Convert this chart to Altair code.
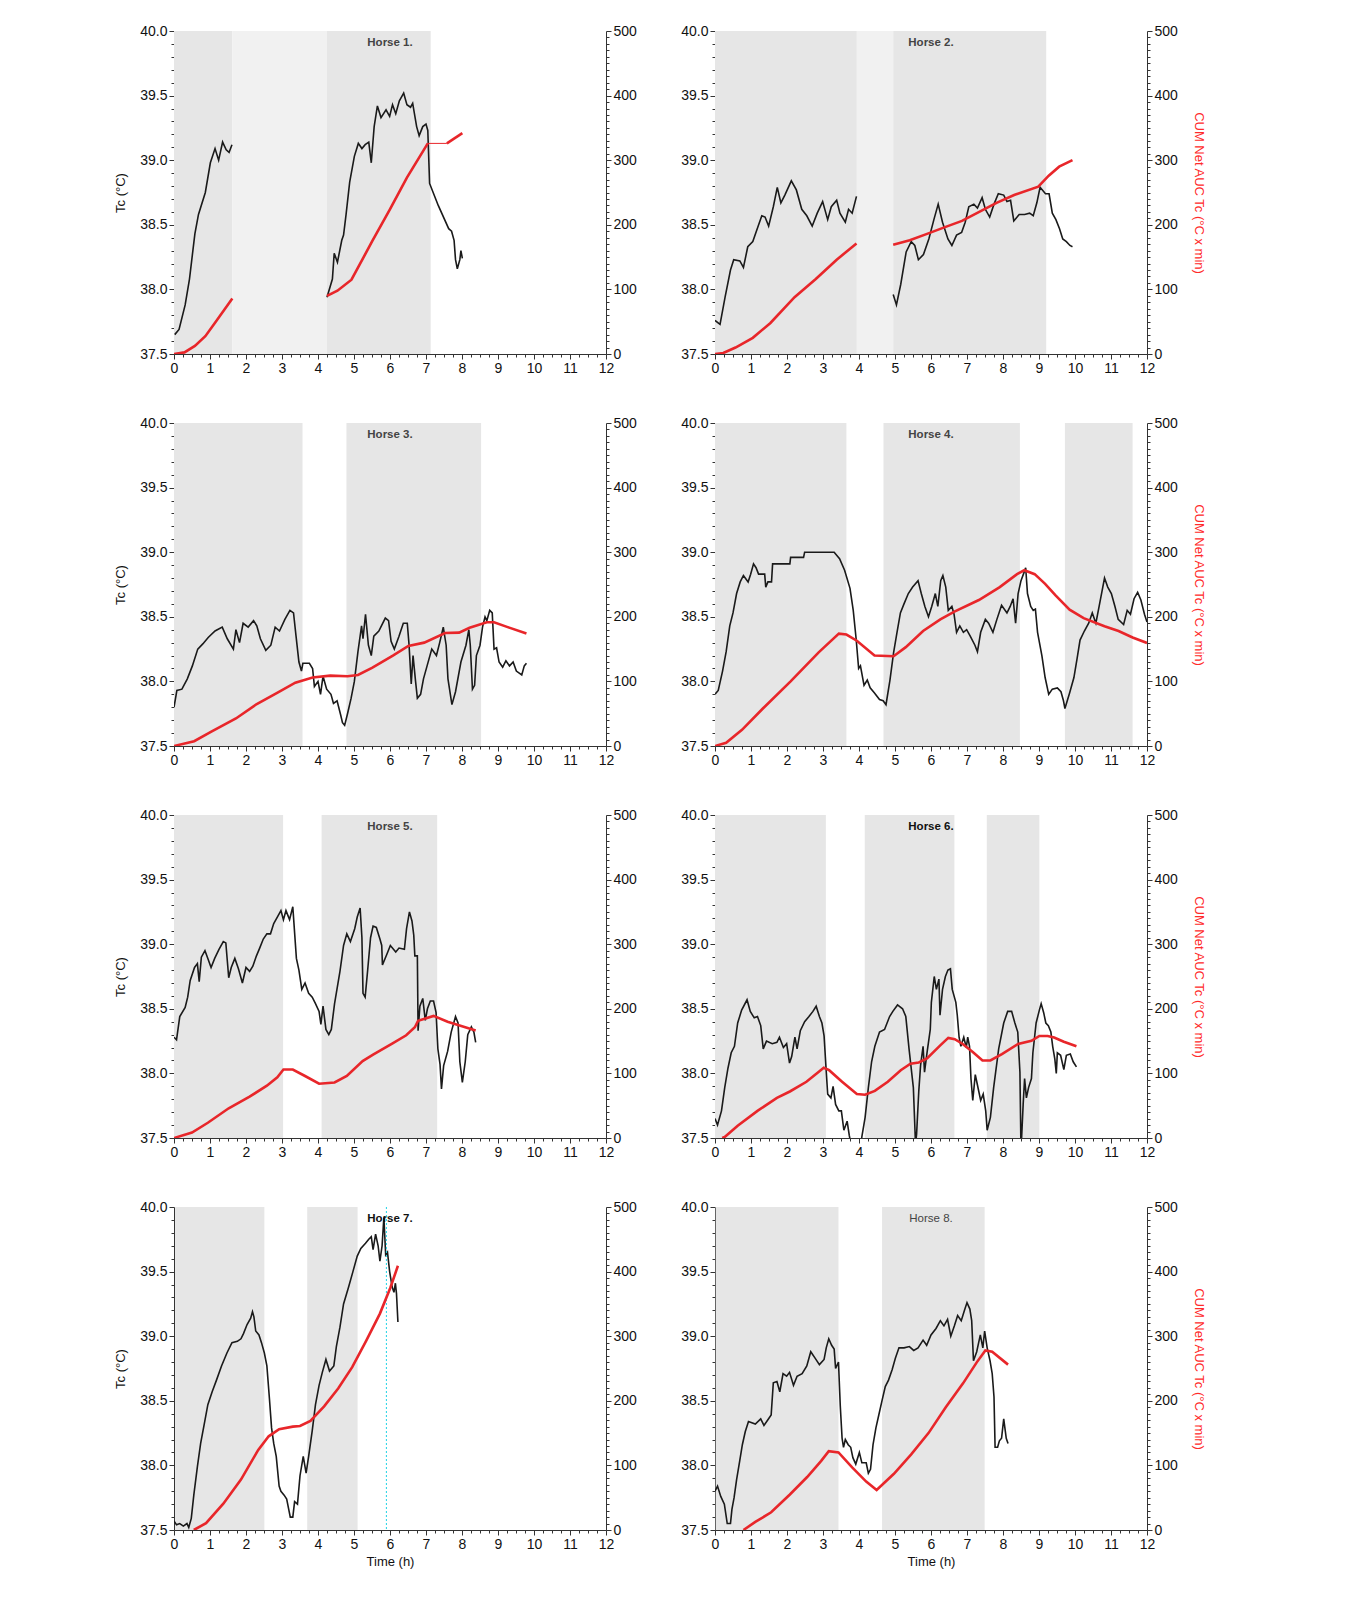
import altair as alt
import pandas as pd

# ---------------- data ----------------
NAMES = ["Horse 1.", "Horse 2.", "Horse 3.", "Horse 4.",
         "Horse 5.", "Horse 6.", "Horse 7.", "Horse 8."]

# shaded periods: (start h, end h, kind)
SHADE = [
    [(0, 1.62, "grey"), (1.62, 4.25, "dot"), (4.25, 7.13, "grey")],
    [(0, 3.94, "grey"), (3.94, 4.95, "dot"), (4.95, 9.2, "grey")],
    [(0, 3.57, "grey"), (4.79, 8.53, "grey")],
    [(0, 3.65, "grey"), (4.68, 8.47, "grey"), (9.72, 11.6, "grey")],
    [(0, 3.03, "grey"), (4.10, 7.31, "grey")],
    [(0, 3.08, "grey"), (4.16, 6.65, "grey"), (7.55, 9.01, "grey")],
    [(0.03, 2.51, "grey"), (3.70, 5.10, "grey")],
    [(0.02, 3.43, "grey"), (4.64, 7.49, "grey")],
]

# core temperature Tc (h, degC), list of segments
H1_TC = [
    [(0.02, 37.65), (0.14, 37.69), (0.31, 37.88), (0.43, 38.08), (0.58, 38.43), (0.68, 38.58),
     (0.87, 38.75), (1.01, 38.98), (1.14, 39.09), (1.24, 39.0), (1.35, 39.14), (1.45, 39.08),
     (1.53, 39.06), (1.61, 39.12)],
    [(4.25, 37.94), (4.40, 38.08), (4.45, 38.28), (4.54, 38.21), (4.66, 38.38), (4.71, 38.42),
     (4.78, 38.58), (4.88, 38.83), (5.01, 39.03), (5.12, 39.13), (5.22, 39.09), (5.31, 39.12),
     (5.41, 39.14), (5.48, 38.98), (5.56, 39.26), (5.65, 39.42), (5.75, 39.33), (5.89, 39.39),
     (5.99, 39.34), (6.07, 39.43), (6.16, 39.36), (6.26, 39.46), (6.38, 39.52), (6.47, 39.43),
     (6.57, 39.41), (6.63, 39.44), (6.74, 39.26), (6.81, 39.19), (6.91, 39.26), (7.00, 39.28),
     (7.05, 39.23), (7.10, 38.82), (7.34, 38.65), (7.63, 38.47), (7.71, 38.45), (7.78, 38.38),
     (7.82, 38.23), (7.87, 38.16), (7.94, 38.23), (7.97, 38.30), (8.01, 38.24)],
]
H2_TC = [
    [(0, 37.76), (0.14, 37.73), (0.28, 37.94), (0.43, 38.15), (0.52, 38.23), (0.69, 38.22),
     (0.79, 38.17), (0.91, 38.33), (1.05, 38.37), (1.20, 38.49), (1.30, 38.57), (1.39, 38.56),
     (1.49, 38.49), (1.62, 38.64), (1.73, 38.79), (1.83, 38.67), (1.94, 38.73), (2.12, 38.84),
     (2.26, 38.77), (2.41, 38.62), (2.55, 38.57), (2.70, 38.49), (2.84, 38.59), (2.99, 38.68),
     (3.13, 38.54), (3.23, 38.64), (3.38, 38.69), (3.47, 38.59), (3.62, 38.52), (3.71, 38.62),
     (3.81, 38.59), (3.93, 38.72)],
    [(4.95, 37.96), (5.04, 37.88), (5.16, 38.04), (5.31, 38.29), (5.45, 38.37), (5.55, 38.34),
     (5.65, 38.23), (5.79, 38.27), (5.94, 38.39), (6.08, 38.54), (6.20, 38.66), (6.32, 38.52),
     (6.47, 38.39), (6.58, 38.34), (6.71, 38.42), (6.85, 38.44), (6.95, 38.52), (7.05, 38.64),
     (7.19, 38.66), (7.29, 38.63), (7.42, 38.71), (7.51, 38.62), (7.63, 38.56), (7.75, 38.66),
     (7.87, 38.74), (8.02, 38.73), (8.11, 38.68), (8.21, 38.69), (8.30, 38.53), (8.45, 38.58),
     (8.60, 38.58), (8.74, 38.59), (8.84, 38.57), (8.94, 38.67), (9.03, 38.79), (9.18, 38.74),
     (9.28, 38.74), (9.37, 38.59), (9.47, 38.54), (9.57, 38.47), (9.66, 38.39), (9.76, 38.37),
     (9.86, 38.34), (9.93, 38.33)],
]
H3_TC = [
    [(0, 37.80), (0.08, 37.93), (0.22, 37.94), (0.37, 38.02), (0.51, 38.12), (0.66, 38.25),
     (0.80, 38.29), (0.95, 38.34), (1.14, 38.39), (1.34, 38.42), (1.48, 38.33), (1.65, 38.25),
     (1.72, 38.40), (1.82, 38.30), (1.92, 38.45), (2.06, 38.42), (2.21, 38.47), (2.30, 38.43),
     (2.40, 38.33), (2.55, 38.24), (2.69, 38.28), (2.81, 38.42), (2.93, 38.39), (3.08, 38.48),
     (3.22, 38.55), (3.32, 38.53), (3.39, 38.35), (3.47, 38.15), (3.54, 38.08), (3.58, 38.14),
     (3.76, 38.14), (3.85, 38.10), (3.90, 37.96), (4.00, 38.00), (4.07, 37.90), (4.14, 38.04),
     (4.24, 37.94), (4.36, 37.90), (4.43, 37.83), (4.53, 37.85), (4.63, 37.74), (4.68, 37.68),
     (4.74, 37.66), (4.82, 37.75), (4.92, 37.87), (5.01, 38.00), (5.11, 38.23), (5.21, 38.43),
     (5.25, 38.33), (5.32, 38.52), (5.40, 38.28), (5.48, 38.20), (5.55, 38.35), (5.69, 38.39),
     (5.87, 38.49), (5.96, 38.47), (6.03, 38.31), (6.12, 38.25), (6.25, 38.35), (6.37, 38.45),
     (6.48, 38.45), (6.53, 38.28), (6.59, 37.98), (6.64, 38.20), (6.71, 38.00), (6.76, 37.87),
     (6.85, 37.90), (6.93, 38.02), (7.03, 38.12), (7.16, 38.25), (7.29, 38.20), (7.38, 38.30),
     (7.48, 38.42), (7.56, 38.28), (7.61, 38.02), (7.72, 37.82), (7.82, 37.92), (7.97, 38.15),
     (8.11, 38.28), (8.19, 38.40), (8.23, 38.28), (8.29, 37.94), (8.35, 37.97), (8.40, 38.20),
     (8.50, 38.28), (8.57, 38.42), (8.64, 38.50), (8.69, 38.47), (8.77, 38.55), (8.84, 38.53),
     (8.89, 38.25), (8.96, 38.26), (9.03, 38.15), (9.13, 38.11), (9.22, 38.16), (9.32, 38.12),
     (9.42, 38.15), (9.51, 38.08), (9.66, 38.05), (9.73, 38.12), (9.79, 38.14)],
]
H4_TC = [
    [(0, 37.90), (0.09, 37.93), (0.21, 38.08), (0.31, 38.23), (0.41, 38.43), (0.50, 38.53),
     (0.60, 38.68), (0.70, 38.77), (0.79, 38.82), (0.92, 38.77), (0.99, 38.83), (1.07, 38.91),
     (1.14, 38.88), (1.21, 38.83), (1.38, 38.83), (1.41, 38.73), (1.47, 38.77), (1.57, 38.77),
     (1.60, 38.91), (2.08, 38.91), (2.10, 38.96), (2.46, 38.96), (2.49, 39.0), (3.31, 39.0),
     (3.46, 38.95), (3.60, 38.86), (3.75, 38.72), (3.84, 38.55), (3.92, 38.33), (3.99, 38.10),
     (4.04, 38.12), (4.14, 37.97), (4.23, 38.01), (4.31, 37.95), (4.43, 37.91), (4.57, 37.86),
     (4.67, 37.85), (4.75, 37.82), (4.86, 38.01), (4.96, 38.22), (5.05, 38.37), (5.15, 38.53),
     (5.25, 38.60), (5.37, 38.68), (5.49, 38.73), (5.64, 38.78), (5.73, 38.68), (5.83, 38.58),
     (5.93, 38.50), (6.02, 38.58), (6.12, 38.68), (6.19, 38.58), (6.27, 38.78), (6.33, 38.82),
     (6.41, 38.73), (6.48, 38.55), (6.58, 38.58), (6.64, 38.52), (6.71, 38.38), (6.80, 38.43),
     (6.90, 38.38), (6.99, 38.40), (7.09, 38.35), (7.22, 38.28), (7.29, 38.23), (7.38, 38.38),
     (7.51, 38.48), (7.60, 38.45), (7.72, 38.38), (7.83, 38.48), (7.96, 38.59), (8.11, 38.53),
     (8.20, 38.58), (8.28, 38.64), (8.35, 38.45), (8.42, 38.68), (8.50, 38.78), (8.58, 38.84),
     (8.63, 38.88), (8.68, 38.68), (8.77, 38.58), (8.84, 38.55), (8.90, 38.56), (8.96, 38.38),
     (9.08, 38.20), (9.17, 38.03), (9.27, 37.90), (9.37, 37.94), (9.51, 37.95), (9.61, 37.92),
     (9.68, 37.85), (9.72, 37.79), (9.85, 37.91), (9.97, 38.03), (10.06, 38.18), (10.14, 38.32),
     (10.26, 38.39), (10.38, 38.45), (10.48, 38.53), (10.58, 38.45), (10.67, 38.58),
     (10.82, 38.80), (10.91, 38.73), (11.01, 38.68), (11.11, 38.58), (11.20, 38.48),
     (11.35, 38.44), (11.45, 38.55), (11.54, 38.52), (11.64, 38.64), (11.74, 38.69),
     (11.83, 38.63), (11.93, 38.52), (12.0, 38.46)],
]
H5_TC = [
    [(0, 38.28), (0.07, 38.26), (0.16, 38.44), (0.31, 38.51), (0.38, 38.59), (0.45, 38.72),
     (0.57, 38.82), (0.65, 38.85), (0.70, 38.71), (0.76, 38.90), (0.86, 38.95), (0.94, 38.89),
     (1.03, 38.82), (1.13, 38.89), (1.25, 38.96), (1.37, 39.02), (1.44, 39.01), (1.52, 38.74),
     (1.59, 38.82), (1.69, 38.89), (1.79, 38.81), (1.90, 38.70), (2.00, 38.82), (2.10, 38.79),
     (2.19, 38.83), (2.29, 38.91), (2.38, 38.97), (2.48, 39.04), (2.58, 39.08), (2.68, 39.08),
     (2.77, 39.16), (2.87, 39.21), (2.97, 39.26), (3.04, 39.19), (3.11, 39.26), (3.21, 39.19),
     (3.30, 39.29), (3.35, 39.09), (3.40, 38.89), (3.47, 38.80), (3.55, 38.65), (3.64, 38.70),
     (3.74, 38.62), (3.84, 38.59), (3.93, 38.54), (4.03, 38.48), (4.08, 38.38), (4.14, 38.52),
     (4.22, 38.34), (4.30, 38.30), (4.37, 38.34), (4.46, 38.54), (4.61, 38.79), (4.71, 38.99),
     (4.80, 39.08), (4.90, 39.02), (5.02, 39.12), (5.09, 39.21), (5.17, 39.28), (5.22, 39.05),
     (5.25, 38.62), (5.31, 38.59), (5.38, 38.80), (5.46, 39.05), (5.53, 39.14), (5.62, 39.13),
     (5.72, 39.04), (5.77, 38.99), (5.79, 38.84), (5.91, 38.92), (6.01, 38.99), (6.16, 38.94),
     (6.25, 38.97), (6.40, 38.96), (6.46, 39.12), (6.54, 39.25), (6.61, 39.18), (6.66, 39.07),
     (6.69, 38.91), (6.76, 38.91), (6.78, 38.33), (6.83, 38.52), (6.91, 38.58), (6.98, 38.41),
     (7.04, 38.50), (7.12, 38.56), (7.21, 38.56), (7.28, 38.47), (7.33, 38.19), (7.39, 38.07),
     (7.43, 37.88), (7.49, 38.06), (7.60, 38.17), (7.70, 38.32), (7.82, 38.44), (7.89, 38.39),
     (7.94, 38.09), (8.01, 37.93), (8.09, 38.09), (8.16, 38.30), (8.26, 38.36), (8.33, 38.32),
     (8.38, 38.24)],
]
H6_TC = [
    [(0, 37.65), (0.07, 37.60), (0.18, 37.71), (0.27, 37.89), (0.36, 38.04), (0.45, 38.16),
     (0.54, 38.21), (0.63, 38.39), (0.74, 38.49), (0.89, 38.57), (0.98, 38.48), (1.09, 38.43),
     (1.18, 38.44), (1.27, 38.37), (1.34, 38.19), (1.43, 38.25), (1.59, 38.23), (1.72, 38.24),
     (1.79, 38.28), (1.90, 38.20), (1.99, 38.23), (2.07, 38.08), (2.13, 38.13), (2.22, 38.28),
     (2.28, 38.19), (2.37, 38.33), (2.49, 38.40), (2.61, 38.44), (2.72, 38.48), (2.81, 38.52),
     (2.90, 38.44), (2.97, 38.39), (3.03, 38.29), (3.08, 38.06), (3.13, 37.84), (3.22, 37.81),
     (3.28, 37.90), (3.35, 37.76), (3.44, 37.71), (3.51, 37.71), (3.58, 37.56), (3.67, 37.63),
     (3.73, 37.52), (3.85, 37.35), (4.00, 37.35), (4.08, 37.51), (4.17, 37.66), (4.26, 37.89),
     (4.35, 38.09), (4.44, 38.21), (4.57, 38.32), (4.71, 38.34), (4.85, 38.44), (4.94, 38.48),
     (5.07, 38.53), (5.21, 38.50), (5.30, 38.44), (5.39, 38.19), (5.51, 37.89), (5.57, 37.45),
     (5.60, 37.53), (5.66, 37.86), (5.71, 38.06), (5.78, 38.21), (5.82, 38.01), (5.89, 38.16),
     (5.98, 38.34), (6.01, 38.55), (6.09, 38.75), (6.15, 38.65), (6.22, 38.73), (6.25, 38.45),
     (6.32, 38.65), (6.40, 38.75), (6.47, 38.80), (6.54, 38.81), (6.59, 38.65), (6.69, 38.55),
     (6.73, 38.45), (6.78, 38.28), (6.83, 38.21), (6.91, 38.28), (6.98, 38.20), (7.02, 38.28),
     (7.07, 38.21), (7.11, 37.96), (7.16, 37.79), (7.23, 37.99), (7.29, 37.91), (7.38, 37.79),
     (7.45, 37.84), (7.52, 37.71), (7.56, 37.56), (7.65, 37.66), (7.74, 37.89), (7.88, 38.19),
     (8.02, 38.39), (8.13, 38.48), (8.24, 38.48), (8.33, 38.39), (8.41, 38.32), (8.47, 38.01),
     (8.50, 37.40), (8.56, 37.76), (8.60, 37.96), (8.65, 37.81), (8.71, 37.89), (8.79, 37.96),
     (8.83, 38.16), (8.92, 38.39), (9.01, 38.49), (9.06, 38.54), (9.13, 38.47), (9.19, 38.39),
     (9.26, 38.37), (9.33, 38.32), (9.38, 38.21), (9.44, 38.11), (9.48, 38.00), (9.51, 38.16),
     (9.60, 38.14), (9.69, 38.03), (9.76, 38.14), (9.87, 38.15), (9.95, 38.09), (10.04, 38.05)],
]
H7_TC = [
    [(0, 37.57), (0.07, 37.54), (0.16, 37.55), (0.26, 37.53), (0.36, 37.55), (0.41, 37.52),
     (0.48, 37.59), (0.55, 37.77), (0.65, 37.99), (0.74, 38.17), (0.84, 38.32), (0.94, 38.47),
     (1.06, 38.57), (1.18, 38.66), (1.32, 38.77), (1.47, 38.87), (1.61, 38.95), (1.76, 38.96),
     (1.86, 38.98), (1.93, 39.02), (2.03, 39.09), (2.13, 39.14), (2.18, 39.19), (2.22, 39.15),
     (2.27, 39.04), (2.36, 39.01), (2.43, 38.95), (2.51, 38.87), (2.58, 38.77), (2.65, 38.52),
     (2.71, 38.29), (2.77, 38.17), (2.84, 38.07), (2.92, 37.84), (2.97, 37.80), (3.06, 37.77),
     (3.13, 37.74), (3.18, 37.67), (3.23, 37.60), (3.30, 37.60), (3.35, 37.72), (3.43, 37.70),
     (3.50, 37.92), (3.59, 38.07), (3.67, 37.94), (3.74, 38.07), (3.84, 38.27), (3.93, 38.47),
     (4.03, 38.62), (4.12, 38.72), (4.22, 38.82), (4.32, 38.73), (4.44, 38.77), (4.51, 38.92),
     (4.61, 39.07), (4.71, 39.25), (4.85, 39.38), (4.97, 39.50), (5.09, 39.62), (5.19, 39.68),
     (5.32, 39.72), (5.41, 39.75), (5.48, 39.77), (5.53, 39.67), (5.60, 39.79), (5.67, 39.70),
     (5.72, 39.58), (5.78, 39.70), (5.83, 39.92), (5.88, 39.63), (5.93, 39.65), (5.99, 39.50),
     (6.06, 39.38), (6.11, 39.34), (6.15, 39.41), (6.18, 39.33), (6.22, 39.11)],
]
H8_TC = [
    [(0, 37.80), (0.07, 37.84), (0.16, 37.76), (0.26, 37.70), (0.34, 37.55), (0.43, 37.55),
     (0.47, 37.66), (0.53, 37.75), (0.60, 37.89), (0.69, 38.04), (0.76, 38.16), (0.84, 38.26),
     (0.93, 38.34), (1.12, 38.32), (1.27, 38.36), (1.36, 38.31), (1.46, 38.35), (1.56, 38.39),
     (1.62, 38.64), (1.72, 38.65), (1.80, 38.57), (1.89, 38.71), (1.99, 38.69), (2.07, 38.72),
     (2.18, 38.62), (2.28, 38.69), (2.42, 38.71), (2.55, 38.77), (2.66, 38.88), (2.78, 38.83),
     (2.90, 38.78), (3.03, 38.82), (3.09, 38.91), (3.16, 38.98), (3.24, 38.93), (3.31, 38.90),
     (3.35, 38.75), (3.43, 38.80), (3.48, 38.46), (3.53, 38.21), (3.57, 38.14), (3.62, 38.20),
     (3.70, 38.16), (3.77, 38.14), (3.83, 38.06), (3.91, 38.01), (4.01, 38.10), (4.08, 38.02),
     (4.20, 38.02), (4.26, 37.94), (4.32, 37.97), (4.39, 38.16), (4.47, 38.29), (4.55, 38.39),
     (4.63, 38.49), (4.73, 38.61), (4.82, 38.66), (4.92, 38.74), (5.01, 38.83), (5.11, 38.91),
     (5.25, 38.91), (5.40, 38.92), (5.52, 38.89), (5.64, 38.91), (5.78, 38.97), (5.88, 38.93),
     (6.00, 39.01), (6.14, 39.06), (6.26, 39.12), (6.36, 39.08), (6.46, 39.13), (6.55, 39.00),
     (6.65, 39.08), (6.74, 39.16), (6.84, 39.12), (6.93, 39.20), (7.00, 39.26), (7.08, 39.21),
     (7.13, 39.12), (7.18, 38.81), (7.27, 38.88), (7.37, 39.01), (7.44, 38.91), (7.49, 39.04),
     (7.56, 38.91), (7.64, 38.81), (7.70, 38.71), (7.75, 38.53), (7.78, 38.14), (7.85, 38.14),
     (7.90, 38.19), (7.96, 38.21), (8.02, 38.36), (8.09, 38.21), (8.14, 38.17)],
]

# cumulative net AUC Tc (h, degC x min), list of segments
H1_AUC = [
    [(0, 0), (0.29, 2.5), (0.58, 12.5), (0.87, 27.6), (1.16, 50), (1.62, 86)],
    [(4.25, 90), (4.54, 98), (4.93, 115), (5.51, 175), (5.99, 223), (6.47, 273), (7.05, 326)],
    [(7.58, 326), (8.01, 342)],
]
H1_LINK = [[(7.05, 326), (7.58, 326)]]
H2_AUC = [
    [(0, 0), (0.23, 1.5), (0.57, 10), (1.05, 25), (1.54, 48), (2.21, 88), (2.80, 116),
     (3.38, 146), (3.93, 171)],
    [(4.95, 169), (5.41, 176), (5.89, 186), (6.37, 196), (6.86, 206), (7.34, 220), (7.82, 234),
     (8.31, 246), (8.98, 259), (9.27, 276), (9.56, 290), (9.93, 300)],
]
H3_AUC = [
    [(0, 0), (0.56, 7.5), (1.05, 22.6), (1.72, 42.6), (2.30, 65), (2.89, 83), (3.37, 98),
     (3.85, 106), (4.34, 109), (4.82, 108), (5.11, 110), (5.50, 121), (6.08, 140), (6.51, 155),
     (6.95, 160), (7.53, 175), (7.92, 175.5), (8.21, 183), (8.69, 191.5), (8.89, 191.5),
     (9.27, 184), (9.79, 174)],
]
H4_AUC = [
    [(0, 0), (0.31, 5), (0.75, 25), (1.33, 58), (2.10, 100), (2.88, 145), (3.44, 174),
     (3.65, 172.5), (3.94, 163), (4.43, 140), (4.96, 139), (5.30, 153), (5.78, 178),
     (6.26, 196), (6.65, 208), (7.33, 226), (7.91, 246), (8.39, 266), (8.59, 272), (8.88, 266),
     (9.17, 251), (9.46, 233), (9.85, 211), (10.24, 198), (10.82, 185.5), (11.21, 178),
     (11.60, 168), (12.0, 159.5)],
]
H5_AUC = [
    [(0, 0), (0.50, 8.5), (0.94, 23.6), (1.52, 46), (2.10, 64), (2.58, 81), (2.87, 94),
     (3.04, 106), (3.30, 106), (3.64, 96), (4.03, 84), (4.46, 86), (4.80, 96), (5.24, 119),
     (5.53, 129), (6.06, 146), (6.45, 159), (6.69, 171.5), (6.78, 181.5), (7.21, 189),
     (7.60, 180), (7.89, 175), (8.38, 166.5)],
]
H6_AUC = [
    [(0.2, 0), (0.27, 1.5), (0.63, 19), (1.18, 42), (1.72, 62), (2.08, 72), (2.54, 87),
     (2.85, 101), (3.02, 108.6), (3.17, 105), (3.53, 87), (3.94, 68), (4.17, 67), (4.44, 73),
     (4.80, 87), (5.16, 105), (5.43, 115), (5.66, 117), (5.89, 123), (6.25, 143), (6.48, 155),
     (6.66, 153), (6.88, 145.5), (7.16, 133), (7.43, 120), (7.65, 120), (7.97, 130),
     (8.42, 145.5), (8.79, 150.5), (9.01, 158), (9.24, 158), (9.42, 155.5), (9.69, 149),
     (10.04, 142)],
]
H7_AUC = [
    [(0.55, 0), (0.89, 10.6), (1.37, 40.7), (1.86, 78), (2.34, 124), (2.63, 145), (2.92, 156),
     (3.30, 160), (3.50, 161), (3.79, 169), (4.17, 191.5), (4.56, 219), (4.95, 252),
     (5.33, 292), (5.72, 335), (6.01, 375), (6.22, 409)],
]
H8_AUC = [
    [(0.79, 0), (1.12, 12.5), (1.56, 27.4), (2.08, 55), (2.56, 82), (2.95, 107), (3.16, 122),
     (3.43, 120), (3.81, 97), (4.20, 75), (4.49, 62), (4.97, 87), (5.45, 117), (5.93, 150),
     (6.41, 190), (6.89, 227), (7.27, 259.5), (7.51, 278), (7.70, 276), (8.14, 256)],
]

H7_MARKER = [5.9]   # dotted cyan vertical line, Horse 7

TC_ALL = [H1_TC, H2_TC, H3_TC, H4_TC, H5_TC, H6_TC, H7_TC, H8_TC]
AUC_ALL = [H1_AUC, H2_AUC, H3_AUC, H4_AUC, H5_AUC, H6_AUC, H7_AUC, H8_AUC]
LINK_ALL = [H1_LINK, [], [], [], [], [], [], []]

X_TICKS = [i / 4 for i in range(49)]
Y_TICKS = [round(37.5 + i * 0.1, 1) for i in range(26)]
R_TICKS = [i * 10 for i in range(51)]

# ---------------- styling ----------------
FONT = "Liberation Sans"
W, H = 432, 323
RED = "#e8262a"
TITLE_STYLE = [
    ("bold", "#444444"), ("bold", "#444444"), ("bold", "#444444"), ("bold", "#444444"),
    ("bold", "#444444"), ("bold", "#111111"), ("bold", "#111111"), ("normal", "#444444"),
]


def seg_frame(segs, vname, width=None):
    rows = []
    for k, seg in enumerate(segs):
        for t, v in seg:
            r = {"t": t, vname: v, "seg": k}
            if width is not None:
                r["w"] = width
            rows.append(r)
    return rows


def panel(i):
    col = i % 2
    row = i // 2
    bottom = row == 3

    xaxis = alt.Axis(
        values=X_TICKS,
        labelExpr="datum.value % 1 === 0 ? format(datum.value, 'd') : ''",
        tickSize={"condition": {"test": "datum.value % 1 !== 0", "value": 3}, "value": 5},
        labelOverlap=False, labelFlush=False, grid=False,
        title="Time (h)" if bottom else None,
        titlePadding=4,
    )
    xs = alt.Scale(domain=[0, 12], nice=False, zero=False)

    def X(f):
        return alt.X(f, type="quantitative", scale=xs, axis=xaxis)

    half = "abs(datum.value * 2 - round(datum.value * 2)) < 0.001"
    laxis = alt.Axis(
        values=Y_TICKS, orient="left",
        labelExpr=f"{half} ? format(datum.value, '.1f') : ''",
        tickSize={"condition": {"test": f"!({half})", "value": 3}, "value": 5},
        labelOverlap=False, labelFlush=False, grid=False,
        title="Tc (°C)" if col == 0 else None, titlePadding=12,
    )
    raxis = alt.Axis(
        values=R_TICKS, orient="right",
        labelExpr="datum.value % 100 === 0 ? format(datum.value, 'd') : ''",
        tickSize={"condition": {"test": "datum.value % 100 !== 0", "value": 3}, "value": 5},
        labelOverlap=False, labelFlush=False, grid=False,
        title="CUM Net AUC Tc (°C x min)" if col == 1 else None,
        titleColor="#ff2a2a", titlePadding=14,
    )

    shade = pd.DataFrame([{"x0": a, "x1": b, "kind": k} for a, b, k in SHADE[i]])
    rects = alt.Chart(shade).mark_rect().encode(
        x=X("x0"), x2="x1",
        color=alt.Color("kind:N", scale=alt.Scale(domain=["grey", "dot"],
                                                  range=["#e6e6e6", "#f1f1f1"]), legend=None),
    )
    tc = pd.DataFrame(seg_frame(TC_ALL[i], "v"))
    black = alt.Chart(tc).mark_line(color="#1a1a1a", strokeWidth=1.6, clip=True).encode(
        x=X("t"),
        y=alt.Y("v:Q", scale=alt.Scale(domain=[37.5, 40], nice=False, zero=False), axis=laxis),
        detail="seg:N",
    )
    weight, tcol = TITLE_STYLE[i]
    title = alt.Chart(pd.DataFrame({"t": [6.0], "label": [NAMES[i]]})).mark_text(
        align="center", baseline="top", fontSize=11.5, fontWeight=weight, color=tcol, font=FONT,
    ).encode(x=X("t"), y=alt.value(6), text="label:N")
    left_layers = [rects, black, title]
    if i == 6:
        rule = alt.Chart(pd.DataFrame({"t": H7_MARKER})).mark_rule(
            color="#22d3e6", strokeDash=[2, 2], strokeWidth=1).encode(x=X("t"))
        left_layers.append(rule)
    left = alt.layer(*left_layers)

    auc_rows = seg_frame(AUC_ALL[i], "a", 2.6)
    auc_rows += [dict(r, seg=r["seg"] + 100) for r in seg_frame(LINK_ALL[i], "a", 1.0)]
    auc = pd.DataFrame(auc_rows)
    red = alt.Chart(auc).mark_line(color=RED, clip=True).encode(
        x=X("t"),
        y=alt.Y("a:Q", scale=alt.Scale(domain=[0, 500], nice=False, zero=False), axis=raxis),
        size=alt.Size("w:Q", scale=None, legend=None),
        detail="seg:N",
    )
    return alt.layer(left, red).resolve_scale(y="independent").properties(width=W, height=H)


rows = [alt.hconcat(panel(2 * r), panel(2 * r + 1), spacing=43) for r in range(4)]
chart = alt.vconcat(*rows, spacing=41).properties(
    padding={"left": 106, "top": 16, "right": 10, "bottom": 10}
).configure(font=FONT).configure_view(stroke=None).configure_axis(
    labelFont=FONT, titleFont=FONT, labelFontSize=14, titleFontSize=13,
    titleFontWeight="normal", labelColor="#111111", titleColor="#111111",
    domainColor="#333333", tickColor="#333333", labelPadding=2,
)

chart.save("out.html", embed_options={"renderer": "svg", "actions": False})
